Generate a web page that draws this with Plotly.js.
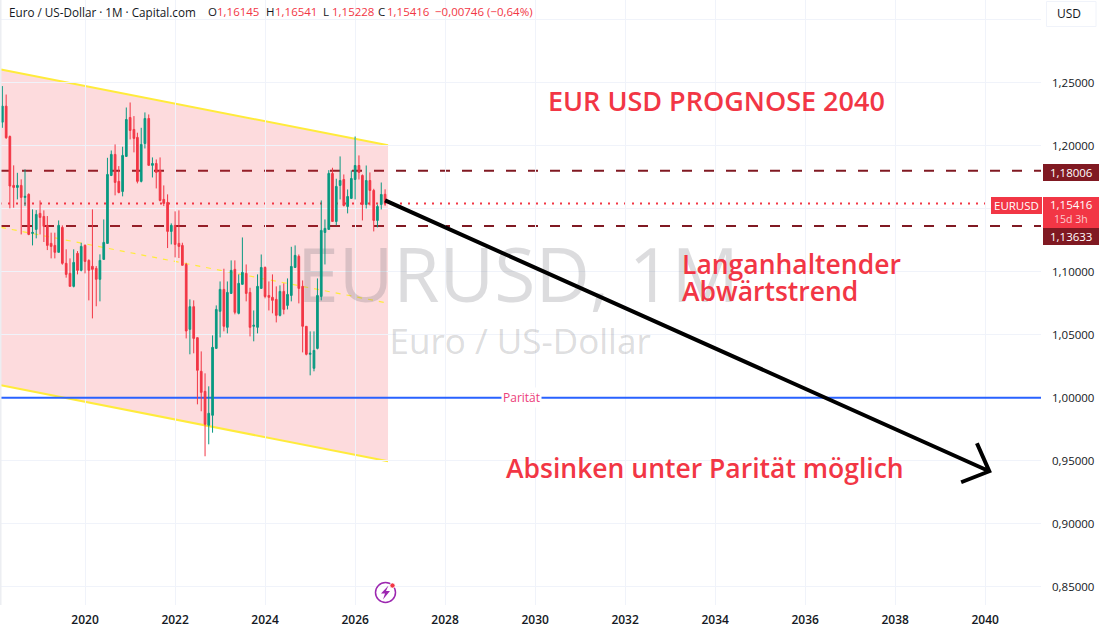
<!DOCTYPE html>
<html>
<head>
<meta charset="utf-8">
<script src="https://cdn.plot.ly/plotly-3.0.1.min.js"></script>
<style>
  html, body { margin: 0; padding: 0; background: #fff; overflow: hidden; }
  #chart { width: 1100px; height: 629px; }
</style>
</head>
<body>
<div id="chart"></div>
<script>
// monthly candles
var months = [
  '2018-03-01','2018-04-01','2018-05-01','2018-06-01','2018-07-01','2018-08-01','2018-09-01','2018-10-01','2018-11-01','2018-12-01',
  '2019-01-01','2019-02-01','2019-03-01','2019-04-01','2019-05-01','2019-06-01','2019-07-01','2019-08-01','2019-09-01','2019-10-01','2019-11-01','2019-12-01',
  '2020-01-01','2020-02-01','2020-03-01','2020-04-01','2020-05-01','2020-06-01','2020-07-01','2020-08-01','2020-09-01','2020-10-01','2020-11-01','2020-12-01',
  '2021-01-01','2021-02-01','2021-03-01','2021-04-01','2021-05-01','2021-06-01','2021-07-01','2021-08-01','2021-09-01','2021-10-01','2021-11-01','2021-12-01',
  '2022-01-01','2022-02-01','2022-03-01','2022-04-01','2022-05-01','2022-06-01','2022-07-01','2022-08-01','2022-09-01','2022-10-01','2022-11-01','2022-12-01',
  '2023-01-01','2023-02-01','2023-03-01','2023-04-01','2023-05-01','2023-06-01','2023-07-01','2023-08-01','2023-09-01','2023-10-01','2023-11-01','2023-12-01',
  '2024-01-01','2024-02-01','2024-03-01','2024-04-01','2024-05-01','2024-06-01','2024-07-01','2024-08-01','2024-09-01','2024-10-01','2024-11-01','2024-12-01',
  '2025-01-01','2025-02-01','2025-03-01','2025-04-01','2025-05-01','2025-06-01','2025-07-01','2025-08-01','2025-09-01','2025-10-01','2025-11-01','2025-12-01',
  '2026-01-01','2026-02-01','2026-03-01','2026-04-01','2026-05-01','2026-06-01','2026-07-01','2026-08-01','2026-09-01'
];
var opens = [
  1.2187,1.2314,1.2073,1.1685,1.1669,1.1685,1.1590,1.1614,1.1304,1.1336,
  1.1463,1.1439,1.1368,1.1225,1.1209,1.1154,1.1352,1.1067,1.0987,1.0884,
  1.1146,1.1011,1.1209,1.1090,1.1043,1.1027,1.0940,1.1098,1.1225,1.1764,
  1.1931,1.1717,1.1637,1.1915,1.2224,1.2129,1.2066,1.1717,1.2018,1.2216,
  1.1844,1.1859,1.1804,1.1574,1.1550,1.1320,1.1368,1.1225,1.1209,1.1058,
  1.0543,1.0723,1.0477,1.0210,1.0051,0.9782,0.9861,1.0392,1.0686,1.0860,
  1.0559,1.0828,1.1019,1.0670,1.0900,1.0987,1.0836,1.0567,1.0559,1.0868,
  1.1034,1.0812,1.0797,1.0781,1.0654,1.0844,1.0733,1.0812,1.1034,1.1122,
  1.0884,1.0567,1.0345,1.0234,1.0392,1.0804,1.1312,1.1336,1.1780,1.1399,
  1.1685,1.1732,1.1518,1.1582,1.1732,1.1843,1.1764,1.1534,1.1724,1.1645,1.1407,1.1534,1.16145
];
var highs = [
  1.2473,1.2406,1.2081,1.1844,1.1785,1.1733,1.1812,1.1622,1.1495,1.1489,
  1.1566,1.1487,1.1442,1.1310,1.1310,1.1407,1.1368,1.1178,1.1106,1.1178,
  1.1164,1.1230,1.1217,1.1098,1.1495,1.1045,1.1138,1.1415,1.1904,1.1962,
  1.2010,1.1838,1.1992,1.2303,1.2343,1.2235,1.2103,1.2142,1.2264,1.2248,
  1.1907,1.1891,1.1907,1.1685,1.1614,1.1384,1.1479,1.1487,1.1230,1.1071,
  1.0781,1.0773,1.0477,1.0368,1.0194,1.0091,1.0495,1.0733,1.0923,1.1024,
  1.0923,1.1090,1.1090,1.0979,1.1272,1.1058,1.0873,1.0693,1.0979,1.1137,
  1.1042,1.0923,1.0979,1.0884,1.0892,1.0908,1.0947,1.1198,1.1209,1.1137,
  1.0931,1.0569,1.0527,1.0527,1.0947,1.1566,1.1415,1.1806,1.1825,1.1738,
  1.1915,1.1772,1.1653,1.1804,1.2073,1.1923,1.1772,1.1843,1.1788,1.1658,1.1534,1.1708,1.16541
];
var lows = [
  1.2142,1.2055,1.1503,1.1508,1.1574,1.1296,1.1521,1.1290,1.1209,1.1265,
  1.1296,1.1236,1.1172,1.1106,1.1106,1.1154,1.1056,1.0953,1.0884,1.0876,
  1.0979,1.1003,1.0987,1.0773,1.0630,1.0726,1.0765,1.1098,1.1225,1.1759,
  1.1606,1.1622,1.1598,1.1915,1.2050,1.1947,1.1701,1.1709,1.1978,1.1844,
  1.1748,1.1661,1.1558,1.1521,1.1188,1.1217,1.1114,1.1109,1.1051,1.0471,
  1.0345,1.0353,0.9948,0.9893,0.9536,0.9631,0.9723,1.0392,1.0479,1.0527,
  1.0511,1.0828,1.0662,1.0662,1.0900,1.0765,1.0487,1.0448,1.0511,1.0868,
  1.0789,1.0693,1.0670,1.0598,1.0646,1.0662,1.0701,1.0765,1.1034,1.0749,
  1.0360,1.0337,1.0178,1.0210,1.0384,1.0773,1.1058,1.1336,1.1399,1.1368,
  1.1574,1.1518,1.1463,1.1582,1.1574,1.1732,1.1407,1.1502,1.1526,1.1320,1.1352,1.1494,1.15228
];
var closes = [
  1.2314,1.2063,1.1680,1.1669,1.1685,1.1590,1.1598,1.1296,1.1312,1.1455,
  1.1431,1.1360,1.1209,1.1201,1.1154,1.1368,1.1067,1.0979,1.0884,1.1074,
  1.1011,1.1201,1.1082,1.1011,1.1019,1.0940,1.1090,1.1233,1.1772,1.1931,
  1.1709,1.1629,1.1923,1.2208,1.2121,1.2058,1.1717,1.2010,1.2216,1.1844,
  1.1859,1.1788,1.1566,1.1542,1.1320,1.1368,1.1217,1.1201,1.1051,1.0530,
  1.0723,1.0471,1.0218,1.0043,0.9790,0.9877,1.0400,1.0701,1.0860,1.0567,
  1.0836,1.1011,1.0678,1.0908,1.0995,1.0828,1.0559,1.0575,1.0884,1.1034,
  1.0804,1.0797,1.0773,1.0654,1.0844,1.0701,1.0820,1.1042,1.1130,1.0868,
  1.0567,1.0345,1.0353,1.0376,1.0812,1.1328,1.1344,1.1780,1.1399,1.1677,
  1.1724,1.1526,1.1597,1.1740,1.1843,1.1788,1.1534,1.1724,1.1645,1.1407,1.1518,1.1613,1.15416
];

// drawings on the chart
var channelX = ['2018-02-18', '2026-09-25'];
var channelUpper = [1.2605, 1.2003];
var channelMiddle = [1.1352, 1.0751];
var channelLower = [1.0099, 0.9496];
var resistance = 1.18006;
var lastPrice = 1.15416;
var support = 1.13633;
var parity = 1.0;
var arrowX = ['2026-09-01', '2040-02-03', '2039-10-26', '2040-02-03', '2039-06-20'];
var arrowY = [1.1566, 0.9417, 0.9639, 0.9417, 0.9330];

var priceTicks = [0.85, 0.90, 0.95, 1.00, 1.05, 1.10, 1.15, 1.20, 1.25, 1.30];
var priceLabels = ['0,85000', '0,90000', '0,95000', '1,00000', '1,05000', '1,10000', '1,15000', '1,20000', '1,25000', ''];

var red = '#F23645';
var green = '#089981';
var darkRed = '#801922';
var yellow = '#FFEB3B';
var ink = '#131722';
var textFont = '"Open Sans", sans-serif';

var plotW = 1041, plotH = 605;
function px(x) { return x / plotW; }
function py(y) { return 1 - y / plotH; }

function hLine(value, color, width, dash) {
  return {
    type: 'line', layer: 'below', xref: 'paper', yref: 'y',
    x0: 0, x1: 1, y0: value, y1: value,
    line: { color: color, width: width, dash: dash }
  };
}
function channelLine(values, width, dash) {
  return {
    type: 'line', layer: 'below', xref: 'x', yref: 'y',
    x0: channelX[0], x1: channelX[1], y0: values[0], y1: values[1],
    line: { color: yellow, width: width, dash: dash }
  };
}
function box(x0, y0, x1, y1, color) {
  return {
    type: 'rect', xref: 'paper', yref: 'paper',
    x0: px(x0), x1: px(x1), y0: py(y0), y1: py(y1),
    fillcolor: color, line: { width: 0 }
  };
}
function circle(cx, cy, r, fill, lineColor, lineWidth) {
  return {
    type: 'circle', xref: 'paper', yref: 'paper',
    x0: px(cx - r), x1: px(cx + r), y0: py(cy - r), y1: py(cy + r),
    fillcolor: fill, line: { color: lineColor, width: lineWidth }
  };
}
function pathOf(points) {
  var d = '';
  for (var i = 0; i < points.length; i++) {
    d += (i == 0 ? 'M' : 'L') + px(points[i][0]) + ',' + py(points[i][1]);
  }
  return d + 'Z';
}
function label(x, y, text, size, color, anchor, weight) {
  return {
    xref: 'paper', yref: 'paper', x: px(x), y: py(y), text: text,
    showarrow: false, xanchor: anchor || 'left', yanchor: 'middle',
    font: { family: textFont, size: size, color: color, weight: weight || 400 }
  };
}

var watermark = {
  x: ['2029-08-15', '2029-09-01'],
  y: [1.0905, 1.0416],
  text: ['EURUSD, 1M', 'Euro / US-Dollar'],
  mode: 'text',
  type: 'scatter',
  textposition: 'middle center',
  textfont: { family: textFont, size: [75, 35], color: 'rgba(110,110,115,0.24)' },
  hoverinfo: 'skip',
  zorder: -1
};

var candles = {
  x: months, open: opens, high: highs, low: lows, close: closes,
  type: 'candlestick',
  increasing: { line: { color: green, width: 1 }, fillcolor: green },
  decreasing: { line: { color: red, width: 1 }, fillcolor: red },
  hoverinfo: 'skip',
  zorder: 1
};

var arrow = {
  x: arrowX, y: arrowY,
  mode: 'lines', type: 'scatter',
  line: { color: '#000000', width: 4, shape: 'linear' },
  hoverinfo: 'skip',
  zorder: 2
};

var shapes = [
  box(0, 0, 1.5, plotH, '#eceef2'),
  {
    type: 'path', layer: 'below', xref: 'x', yref: 'y',
    path: 'M' + channelX[0] + ',' + channelUpper[0] + 'L' + channelX[1] + ',' + channelUpper[1] +
          'L' + channelX[1] + ',' + channelLower[1] + 'L' + channelX[0] + ',' + channelLower[0] + 'Z',
    fillcolor: 'rgba(242,54,69,0.18)', line: { width: 0 }
  },
  channelLine(channelUpper, 2),
  channelLine(channelLower, 2),
  channelLine(channelMiddle, 1.2, '5px,6px'),
  hLine(resistance, darkRed, 2, '10px,12px'),
  hLine(support, darkRed, 2, '10px,12px'),
  hLine(lastPrice, red, 2, '2px,6px'),
  // price scale tags
  box(1043, 164, 1099, 181, darkRed),
  box(1043, 228, 1099, 245, darkRed),
  box(1043, 197, 1099, 228, red),
  box(991, 197, 1042, 214, red),
  // USD button
  {
    type: 'rect', xref: 'paper', yref: 'paper',
    x0: px(1046.5), x1: px(1096), y0: py(1.5), y1: py(26.5),
    fillcolor: '#ffffff', line: { color: '#f0f3fa', width: 1 }
  },
  // lightning icon
  circle(385.5, 592.5, 10, 'rgba(255,255,255,0)', '#9C27B0', 1.5),
  {
    type: 'path', xref: 'paper', yref: 'paper',
    path: pathOf([[388.5, 585.5], [381, 593.5], [385, 593.5], [383, 599.5], [390, 591], [386, 591]]),
    fillcolor: '#9C27B0', line: { width: 0 }
  },
  circle(392.5, 585.5, 2.6, red, '#ffffff', 0.8)
];

// parity line as a trace so it keeps its colour, the label covers the middle
var parityLine = {
  x: ['2018-02-10', '2041-03-29'],
  y: [parity, parity],
  mode: 'lines', type: 'scatter',
  line: { color: '#2962FF', width: 2 },
  hoverinfo: 'skip',
  zorder: 0
};

var annotations = [
  label(7, 12, 'Euro / US-Dollar · 1M · Capital.com', 11.7, ink),
  label(206, 12, 'O', 11.5, ink),
  label(215, 12, '1,16145', 11.5, red),
  label(264, 12, 'H', 11.5, ink),
  label(273, 12, '1,16541', 11.5, red),
  label(321, 12, 'L', 11.5, ink),
  label(330, 12, '1,15228', 11.5, red),
  label(376, 12, 'C', 11.5, ink),
  label(385, 12, '1,15416', 11.5, red),
  label(433, 12, '−0,00746 (−0,64%)', 11.5, red),
  label(1055, 14, 'USD', 12, ink),
  label(546, 100, 'EUR USD PROGNOSE 2040', 27, red, 'left', 600),
  label(680, 264, 'Langanhaltender', 26.5, red, 'left', 600),
  label(680, 291, 'Abwärtstrend', 26.5, red, 'left', 600),
  label(504, 468, 'Absinken unter Parität möglich', 26.5, red, 'left', 600),
  {
    xref: 'paper', yref: 'y', x: px(521.5), y: parity, text: 'Parität',
    showarrow: false, xanchor: 'center', yanchor: 'middle', bgcolor: '#ffffff',
    font: { family: textFont, size: 12, color: '#EC407A' }, borderpad: 1
  },
  label(1071, 172.5, '1,18006', 11.5, '#ffffff', 'center'),
  label(1071, 204.5, '1,15416', 11.5, '#ffffff', 'center'),
  label(1071, 219, '15d 3h', 10.5, 'rgba(255,255,255,0.75)', 'center'),
  label(1071, 236.5, '1,13633', 11.5, '#ffffff', 'center'),
  label(1016.5, 205.5, 'EURUSD', 11.5, '#ffffff', 'center')
];

var layout = {
  width: 1100,
  height: 629,
  margin: { l: 0, r: 59, t: 0, b: 24 },
  paper_bgcolor: '#ffffff',
  plot_bgcolor: '#ffffff',
  showlegend: false,
  hovermode: false,
  xaxis: {
    type: 'date',
    range: ['2018-02-10', '2041-03-29'],
    tick0: '2020-01-01',
    dtick: 'M24',
    tickformat: '%Y',
    ticks: '',
    showline: false,
    zeroline: false,
    gridcolor: '#f0f3fa',
    gridwidth: 1,
    rangeslider: { visible: false },
    tickfont: { family: textFont, size: 12, color: ink, weight: 600 },
    ticklabelstandoff: 6
  },
  yaxis: {
    side: 'right',
    range: [0.8356, 1.3156],
    tickmode: 'array',
    tickvals: priceTicks,
    ticktext: priceLabels,
    ticks: '',
    showline: false,
    zeroline: false,
    gridcolor: '#f0f3fa',
    gridwidth: 1,
    tickfont: { family: textFont, size: 11.5, color: ink },
    ticklabelstandoff: 10
  },
  shapes: shapes,
  annotations: annotations
};

Plotly.newPlot('chart', [watermark, parityLine, candles, arrow], layout, { displayModeBar: false, responsive: false });
</script>
</body>
</html>
